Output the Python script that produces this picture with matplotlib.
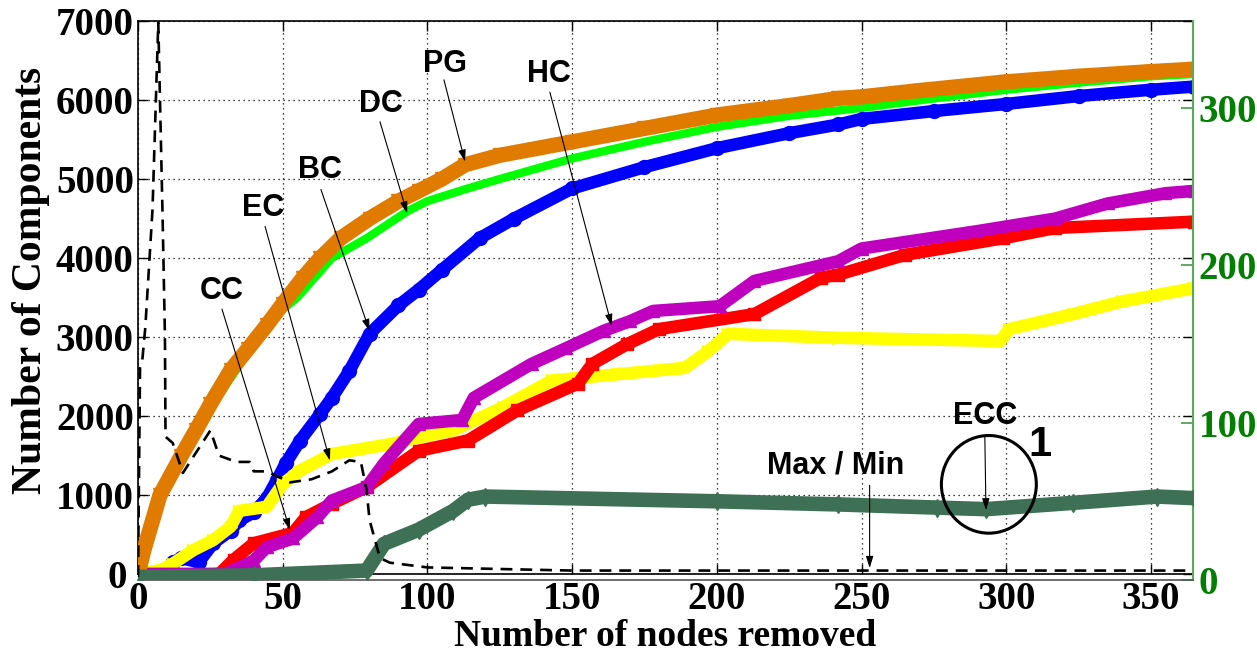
import matplotlib
matplotlib.use("Agg")
import matplotlib.pyplot as plt
from matplotlib.patches import Ellipse
from matplotlib.transforms import blended_transform_factory, IdentityTransform, ScaledTranslation

# Datos (eje izquierdo: número de componentes)
pg_x = [0, 2, 7.6, 15, 20, 25, 32, 38, 44.5, 50, 57, 63, 70, 80, 90, 97, 105, 113, 125, 150, 175, 200, 225, 242, 250, 270, 300, 325, 350, 365]
pg_y = [0, 300, 1000, 1500, 1820, 2150, 2580, 2850, 3150, 3420, 3750, 4000, 4250, 4500, 4720, 4850, 5000, 5180, 5300, 5470, 5640, 5810, 5930, 6020, 6040, 6120, 6230, 6300, 6360, 6390]

dc_x = [0, 2, 7.6, 15, 25, 38, 50, 55, 67, 79, 93, 100, 113, 125, 150, 175, 200, 225, 250, 275, 300, 325, 350, 365]
dc_y = [0, 280, 970, 1470, 2110, 2800, 3350, 3500, 4000, 4250, 4590, 4720, 4870, 5000, 5260, 5470, 5660, 5800, 5900, 6020, 6130, 6220, 6300, 6330]

bc_x = [0, 10, 12, 15, 21, 26, 32, 35, 40, 44.5, 48, 51, 56, 63, 67, 73, 80, 90, 97, 105, 118, 130, 150, 175, 200, 225, 242, 250, 275, 300, 325, 350, 365]
bc_y = [0, 50, 150, 200, 150, 390, 550, 680, 780, 960, 1190, 1400, 1690, 2030, 2230, 2570, 3040, 3400, 3600, 3850, 4250, 4500, 4880, 5150, 5390, 5580, 5690, 5760, 5860, 5950, 6050, 6130, 6170]

hc_x = [0, 30, 40, 44.5, 53.5, 62, 67, 79, 85, 97, 112, 116, 136, 148, 161, 170, 178, 201, 213, 242, 250, 290, 317, 335, 355, 365]
hc_y = [0, 0, 170, 340, 450, 720, 930, 1100, 1400, 1900, 1950, 2230, 2660, 2860, 3080, 3200, 3330, 3390, 3710, 3960, 4120, 4340, 4500, 4690, 4820, 4850]

cc_x = [0, 28, 33, 40, 53.5, 58, 67, 79, 97, 114, 131, 152, 157, 169, 180, 213, 236, 242, 265, 299, 317, 365]
cc_y = [0, 0, 180, 390, 520, 720, 890, 1100, 1560, 1690, 2070, 2410, 2660, 2910, 3100, 3290, 3750, 3790, 4040, 4250, 4380, 4460]

ec_x = [0, 8, 12, 19, 26, 32, 35, 44.5, 50, 56, 67, 88, 97, 109, 126, 143, 166, 189, 197, 204, 242, 270, 298, 301, 323, 340, 365]
ec_y = [0, 50, 130, 300, 430, 600, 800, 850, 1140, 1310, 1520, 1650, 1730, 1820, 2110, 2450, 2530, 2610, 2820, 3040, 2990, 2970, 2950, 3100, 3290, 3450, 3620]

# Eje derecho
ecc_x = [0, 40, 79, 85, 97, 109, 114, 120, 200, 242, 276, 293, 323, 352, 365]
ecc_y = [2, 3, 6, 23, 32, 44, 51, 53, 50, 48, 46, 45, 49, 53, 52]

mm_x = [0, 0.7, 1.5, 2.5, 5, 7, 8.5, 9.3, 9.5, 12, 15.5, 25, 28, 34, 38.6, 40, 44.5, 48, 52.5, 60, 67, 73, 77, 79, 80, 83.6, 87, 100, 150, 365]
mm_y = [2, 135, 140, 160, 235, 354, 230, 155, 91, 87, 68, 95, 79, 75, 75, 69, 69, 66, 62, 64, 69, 76, 75, 57, 38, 14, 11, 8, 6, 6]

x_ticks = [0, 50, 100, 150, 200, 250, 300, 350]
y_ticks = [0, 1000, 2000, 3000, 4000, 5000, 6000, 7000]
y2_ticks = [0, 100, 200, 300]

serif = "Liberation Serif"
sans = "Liberation Sans"
verde = "#007f00"

fig = plt.figure(figsize=(12.57, 6.52), dpi=100)
ax = fig.add_axes([0.1098, 0.1196, 0.8392, 0.8482])
ax2 = fig.add_axes([0.1098, 0.1104, 0.8392, 0.8574])

ax.plot(dc_x, dc_y, color="#00ff00", lw=6, marker="+", ms=6, zorder=3)
ax.plot(pg_x, pg_y, color="#e07b00", lw=11, marker="v", ms=10, zorder=4)
ax.plot(bc_x, bc_y, color="#0000ff", lw=9, marker="o", ms=9, mfc="none", mew=2, zorder=3)
ax.plot(ec_x, ec_y, color="#ffff00", lw=9, marker=">", ms=9, zorder=3)
ax.plot(cc_x, cc_y, color="#ff0000", lw=9, marker="s", ms=8, zorder=3)
ax.plot(hc_x, hc_y, color="#bf00bf", lw=9, marker="^", ms=9, zorder=3)

ax.set_xlim(0, 364.5)
ax.set_ylim(0, 7000)
ax.set_xticks(x_ticks)
ax.set_yticks(y_ticks)
ax.grid(True, color="black", linestyle=(0, (1, 3)), lw=0.9)
ax.tick_params(direction="in", top=True, right=True, length=7, width=1, pad=3)
ax.tick_params(axis="x", pad=5)
for lab in ax.get_xticklabels() + ax.get_yticklabels():
    lab.set_fontfamily(serif)
    lab.set_fontweight("bold")
    lab.set_fontsize(28)
ax.set_xlabel("Number of nodes removed", family=serif, weight="bold", fontsize=27)
ax.set_ylabel("Number of Components", family=serif, weight="bold", fontsize=30)
ax.yaxis.set_label_coords(-0.083, 0.53)
for s in ax.spines.values():
    s.set_linewidth(1.2)

ax2.patch.set_visible(False)
ax2.plot(ecc_x, ecc_y, color="#3d7055", lw=10.5, marker="d", ms=9, zorder=3)
ax2.plot(mm_x, mm_y, color="black", lw=1.9, linestyle=(0, (4.5, 3)), zorder=5)
ax2.set_xlim(0, 364.5)
ax2.set_ylim(0, 355)
ax2.set_xticks([])
ax2.yaxis.tick_right()
ax2.set_yticks(y2_ticks)
ax2.tick_params(axis="y", direction="in", length=9, width=1.2, color="#4a9a4a", labelcolor=verde, pad=4)
for lab in ax2.get_yticklabels():
    lab.set_fontfamily(serif)
    lab.set_fontweight("bold")
    lab.set_fontsize(28)
ax2.spines["top"].set_visible(False)
ax2.spines["left"].set_visible(False)
ax2.spines["right"].set_color("#5aaa5a")
ax2.spines["right"].set_linewidth(1.5)
ax2.spines["bottom"].set_color("#555555")
ax2.spines["bottom"].set_linewidth(1.2)

# Anotaciones (coordenadas del eje izquierdo)
flecha = dict(arrowstyle="-|>,head_length=0.7,head_width=0.22", color="black", lw=0.8, shrinkA=0, shrinkB=0)
etiquetas = [
    ("PG", (106, 6456), (105.7, 6255), (113, 5220)),
    ("HC", (142, 6330), (142.3, 6100), (163.7, 3140)),
    ("DC", (84, 5950), (83.6, 5725), (93, 4565)),
    ("BC", (63, 5120), (63.2, 4867), (80, 3077)),
    ("EC", (43.2, 4628), (43.9, 4400), (66.3, 1437)),
    ("CC", (29, 3581), (29, 3354), (52.5, 555)),
    ("Max / Min", (241, 1375), (252.8, 1122), (252.8, 76)),
    ("ECC", (292.6, 2005), (292.6, 1753), (293, 807)),
]
for texto, pos, inicio, punta in etiquetas:
    ax2.text(pos[0], pos[1], texto, transform=ax.transData, ha="center", va="center",
             family=sans, weight="bold", fontsize=22, zorder=6)
    ax2.annotate("", xy=punta, xytext=inicio, xycoords=ax.transData, textcoords=ax.transData,
                 arrowprops=flecha, zorder=6)

circulo = Ellipse((294, 1135), width=32.8, height=1236, transform=ax.transData,
                  fill=False, edgecolor="black", lw=2.2, zorder=6)
ax2.add_patch(circulo)
ax2.text(311.6, 1627, "1", transform=ax.transData, ha="center", va="center",
         family=sans, weight="bold", fontsize=30, zorder=6)

# Colocar la etiqueta del eje x justo debajo de los números
fig.canvas.draw()
r = fig.canvas.get_renderer()
fondo = min(l.get_window_extent(r).y0 for l in ax.get_xticklabels())
ax.xaxis.set_label_coords(0.5, fondo - 1,
                          transform=blended_transform_factory(ax.transAxes, IdentityTransform()))

# Separar un poco el "0" del eje y del "0" del eje x
cero = ax.get_yticklabels()[0]
cero.set_transform(cero.get_transform() + ScaledTranslation(-0.07, 0, fig.dpi_scale_trans))

fig.savefig("out.png", dpi=100)
